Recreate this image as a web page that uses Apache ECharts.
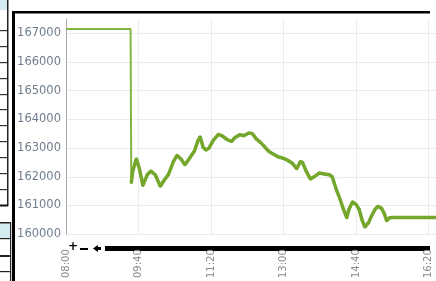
<!DOCTYPE html>
<html>
<head>
<meta charset="utf-8">
<script src="https://cdn.jsdelivr.net/npm/echarts@6/dist/echarts.min.js"></script>
<style>
    html, body { margin: 0; padding: 0; background: #fff; overflow: hidden; }
    #myChart { width: 436px; height: 281px; }
</style>
</head>
<body>
<div id="myChart"></div>
<script>
// 开盘前 (昨收)
var preTimes = ['08:00', '09:29', '09:30'];
var preValues = [167150, 167150, 161800];

// 分时数据
var times = ['09:30', '09:32', '09:37', '09:41', '09:46', '09:52', '09:57', '10:03', '10:10', '10:15',
    '10:21', '10:28', '10:33', '10:39', '10:44', '10:51', '10:57', '11:02', '11:05', '11:09',
    '11:13', '11:17', '11:23', '11:30', '11:35', '11:42', '11:48', '11:53', '12:00', '12:05',
    '12:12', '12:17', '12:22', '12:28', '12:33', '12:39', '12:45', '12:52', '12:59', '13:06',
    '13:12', '13:18', '13:23', '13:26', '13:31', '13:37', '13:42', '13:49', '13:56', '14:03',
    '14:07', '14:12', '14:18', '14:22', '14:27', '14:30', '14:35', '14:40', '14:44', '14:48',
    '14:52', '14:57', '15:01', '15:06', '15:10', '15:15', '15:19', '15:22', '15:26', '15:30',
    '16:30'];
var values = [161800, 162200, 162630, 162300, 161700, 162070, 162200, 162070, 161670, 161870,
    162070, 162530, 162750, 162600, 162420, 162670, 162900, 163270, 163400, 163030,
    162930, 163000, 163270, 163480, 163430, 163300, 163230, 163370, 163470, 163430,
    163530, 163500, 163330, 163200, 163070, 162900, 162800, 162700, 162650, 162570,
    162470, 162280, 162530, 162500, 162200, 161920, 162000, 162130, 162100, 162070,
    162000, 161600, 161200, 160900, 160570, 160870, 161130, 161030, 160870, 160500,
    160250, 160400, 160630, 160870, 160970, 160900, 160700, 160470, 160570, 160580,
    160580];

var startHour = 8;

function toMin(s) {
    var p = s.split(':');
    return (parseInt(p[0], 10) - startHour) * 60 + parseInt(p[1], 10);
}
function toLabel(m) {
    var h = startHour + Math.floor(m / 60);
    var mm = m % 60;
    return (h < 10 ? '0' + h : '' + h) + ':' + (mm < 10 ? '0' + mm : '' + mm);
}
function pairs(ts, vs) {
    var out = [];
    for (var i = 0; i < ts.length; i++) {
        out.push([toMin(ts[i]), vs[i]]);
    }
    return out;
}

var dom = document.getElementById('myChart');
var myChart = echarts.init(dom);

// 左边表格和外框 (装饰)
var deco = [];
function box(x, y, w, h, c) {
    deco.push({ type: 'rect', shape: { x: x, y: y, width: w, height: h }, style: { fill: c }, silent: true });
}
box(0, 0, 7, 10, '#d4ebf2');
box(0, 223, 10, 15, '#d4ebf2');
box(7, 0, 1.5, 206, '#222');
var rows1 = [30, 46, 62, 78, 94, 109, 125, 141, 157, 173, 189];
for (var r = 0; r < rows1.length; r++) {
    box(0, rows1[r], 7, 1.2, '#333');
}
box(0, 204.5, 8, 2, '#111');
box(0, 222, 11, 1.5, '#222');
box(10, 222, 1.2, 59, '#222');
var rows2 = [238, 255, 271];
for (var r2 = 0; r2 < rows2.length; r2++) {
    box(0, rows2[r2], 10, rows2[r2] === 255 ? 2 : 1.2, '#222');
}
box(12, 11, 418, 2.5, '#000');
box(12, 11, 3, 270, '#000');
// 底部缩放条
box(105, 246, 325, 5, '#000');
deco.push({ type: 'text', left: 68, top: 241, silent: true,
    style: { text: '+', fill: '#000', font: 'bold 12px DejaVu Sans' } });
deco.push({ type: 'rect', shape: { x: 80, y: 248, width: 8, height: 2 }, style: { fill: '#000' }, silent: true });
deco.push({ type: 'polygon', shape: { points: [[93, 248.5], [98, 245], [98, 252]] }, style: { fill: '#000' }, silent: true });
box(97, 247, 4, 3, '#000');

var option = {
    animation: false,
    backgroundColor: '#fff',
    grid: {
        left: 66,
        right: 0,
        top: 19,
        bottom: 37,
        containLabel: false
    },
    xAxis: {
        type: 'value',
        min: 0,
        max: 510,
        interval: 100,
        axisLine: { show: false },
        axisTick: { show: false },
        axisLabel: {
            rotate: 90,
            margin: 15,
            color: '#8a8a8a',
            fontSize: 10,
            fontFamily: 'DejaVu Sans',
            showMaxLabel: false,
            formatter: function (v) { return toLabel(v); }
        },
        splitLine: {
            show: true,
            showMaxLine: false,
            lineStyle: { color: '#ececec', width: 1 }
        }
    },
    yAxis: {
        type: 'value',
        min: 160000,
        max: 167500,
        interval: 1000,
        axisLine: { show: true, lineStyle: { color: '#a8a8a8', width: 1 } },
        axisTick: { show: false },
        axisLabel: {
            margin: 5,
            color: '#707d8e',
            fontSize: 11.5,
            fontFamily: 'DejaVu Sans',
            showMaxLabel: false,
            formatter: function (v) { return '' + v; }
        },
        splitLine: {
            show: true,
            showMaxLine: false,
            lineStyle: { color: '#ececec', width: 1 }
        }
    },
    series: [{
        name: 'pre',
        type: 'line',
        data: pairs(preTimes, preValues),
        symbol: 'none',
        lineStyle: { color: '#82b343', width: 2 },
        z: 2
    }, {
        name: 'price',
        type: 'line',
        data: pairs(times, values),
        symbol: 'circle',
        symbolSize: 3,
        showAllSymbol: true,
        itemStyle: { color: '#74a72b' },
        lineStyle: { color: '#74a72b', width: 3.5 },
        z: 3
    }],
    graphic: deco
};

if (option && typeof option === 'object') {
    myChart.setOption(option, true);
}
</script>
</body>
</html>
